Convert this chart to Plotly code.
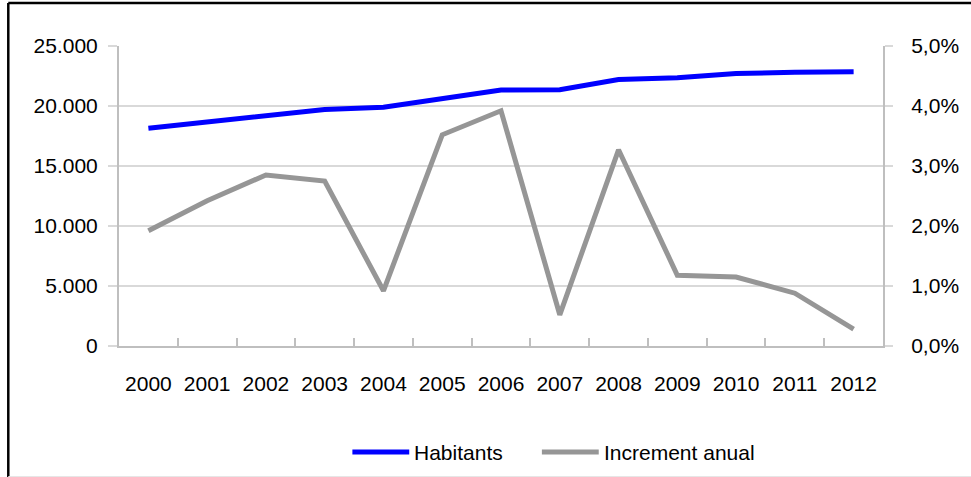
import plotly.graph_objects as go

years = ["2000", "2001", "2002", "2003", "2004", "2005", "2006",
         "2007", "2008", "2009", "2010", "2011", "2012"]
habitants = [18150, 18650, 19200, 19700, 19900, 20600, 21330,
             21350, 22200, 22350, 22700, 22820, 22850]
increment = [0.0192, 0.0242, 0.0285, 0.0275, 0.0092, 0.0352, 0.0392,
             0.0052, 0.0327, 0.0118, 0.0115, 0.0088, 0.0028]
y_left_ticks = [0, 5000, 10000, 15000, 20000, 25000]
y_right_ticks = [0, 0.01, 0.02, 0.03, 0.04, 0.05]

FONT = "Liberation Sans, Arial, sans-serif"
FS = 21
BLUE = "#0000FF"
GRAY = "#969696"
AXIS = "#BFBFBF"
GRID = "#D9D9D9"

fig = go.Figure()
fig.add_trace(go.Scatter(x=years, y=habitants, mode="lines", name="Habitants",
                         line=dict(color=BLUE, width=5), yaxis="y"))
fig.add_trace(go.Scatter(x=years, y=increment, mode="lines", name="Increment anual",
                         line=dict(color=GRAY, width=5), yaxis="y2"))

W, H = 971, 477
L, R, T, B = 119, 86, 46, 131
pw, ph = W - L - R, H - T - B


def px(x):
    return (x - L) / pw


def py(y):
    return (H - B - y) / ph


fig.update_layout(
    width=W, height=H,
    margin=dict(l=L, r=R, t=T, b=B),
    paper_bgcolor="white", plot_bgcolor="white",
    separators=",.",
    showlegend=False,
    font=dict(family=FONT, size=FS, color="#000000"),
    xaxis=dict(type="category", range=[-0.5, len(years) - 0.5], showgrid=False,
               showline=True, linecolor=AXIS, linewidth=2, ticks="inside",
               tickson="boundaries", ticklen=8, tickangle=0,
               tickcolor=AXIS, tickwidth=1.5, ticklabelstandoff=18,
               tickfont=dict(family=FONT, size=FS, color="#000000")),
    yaxis=dict(range=[0, 25000], tickvals=y_left_ticks, tickformat=",d",
               showgrid=True, gridcolor=GRID, gridwidth=1.5, showline=True,
               linecolor=AXIS, linewidth=2, ticks="outside", ticklen=9,
               tickcolor=GRID, tickwidth=1.5, zeroline=False,
               ticklabelstandoff=6,
               tickfont=dict(family=FONT, size=FS, color="#000000")),
    yaxis2=dict(range=[0, 0.05], tickvals=y_right_ticks, tickformat=".1%",
                overlaying="y", side="right", showgrid=False, showline=True,
                linecolor=AXIS, linewidth=2, ticks="outside", ticklen=8,
                tickcolor=GRID, tickwidth=1.5, zeroline=False,
                ticklabelstandoff=14,
                tickfont=dict(family=FONT, size=FS, color="#000000")),
)

# outer frame (left + top black, bottom faint)
fig.add_shape(type="line", xref="paper", yref="paper",
              x0=px(8), x1=px(8), y0=py(3), y1=py(480),
              line=dict(color="black", width=2.5))
fig.add_shape(type="line", xref="paper", yref="paper",
              x0=px(8), x1=px(975), y0=py(3), y1=py(3),
              line=dict(color="black", width=2.5))
fig.add_shape(type="line", xref="paper", yref="paper",
              x0=px(8), x1=px(975), y0=py(476.5), y1=py(476.5),
              line=dict(color="#E6E6E6", width=1))

# manual legend
legend_items = [("Habitants", BLUE, 353, 410), ("Increment anual", GRAY, 543, 600)]
for name, col, x0, x1 in legend_items:
    fig.add_shape(type="line", xref="paper", yref="paper",
                  x0=px(x0), x1=px(x1), y0=py(452), y1=py(452),
                  line=dict(color=col, width=5))
    fig.add_annotation(xref="paper", yref="paper", x=px(x1 + 3), y=py(452),
                       text=name, showarrow=False, xanchor="left", yanchor="middle",
                       font=dict(family=FONT, size=FS, color="#000000"))

fig.write_html("out.html")
